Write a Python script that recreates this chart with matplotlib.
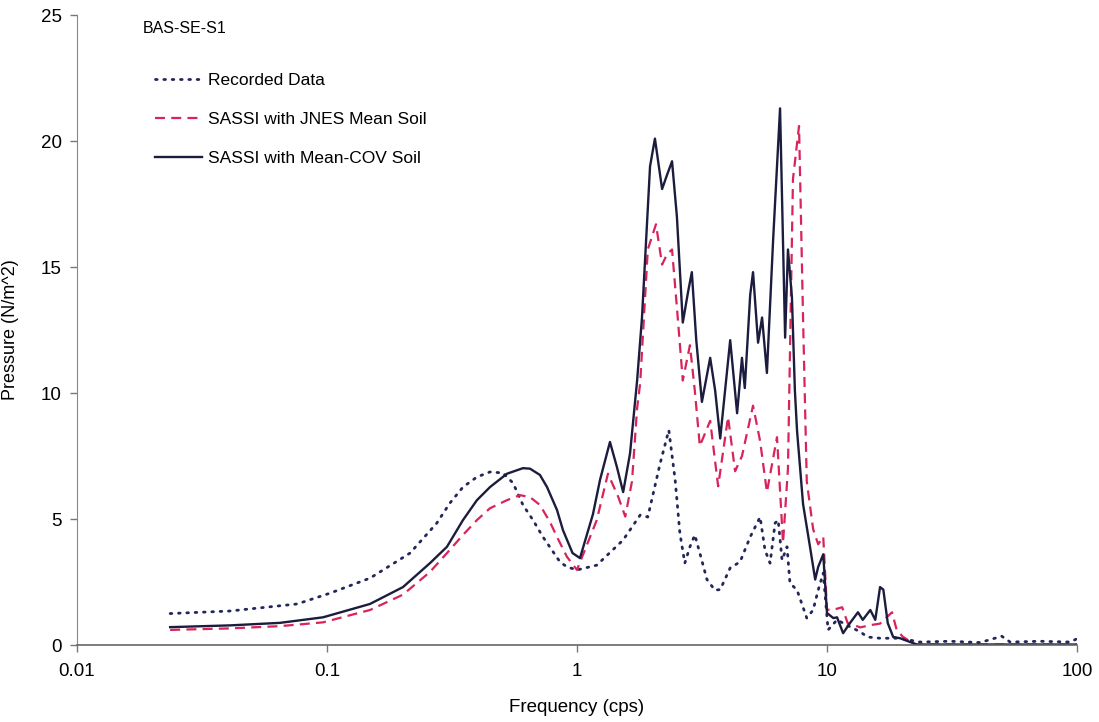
import matplotlib
matplotlib.use("Agg")
import matplotlib.pyplot as plt

plt.rcParams['font.family'] = ['Liberation Sans', 'DejaVu Sans']

# Recorded Data
rec_f = [0.0236, 0.0409, 0.076, 0.103, 0.149, 0.215, 0.275, 0.31, 0.350, 0.398,
         0.449, 0.506, 0.555, 0.608, 0.667, 0.731, 0.855, 0.912, 1.0, 1.2, 1.53,
         1.79, 1.92, 2.15, 2.33, 2.47, 2.58, 2.70, 2.83, 2.96, 3.10, 3.31, 3.56,
         3.74, 4.10, 4.49, 4.93, 5.40, 5.65, 5.92, 6.20, 6.38, 6.61, 6.92, 7.11,
         7.59, 8.02, 8.30, 8.80, 9.22, 9.66, 10.1, 10.97, 12.0, 13.6, 14.5, 16.3,
         19.6, 23.5, 31.0, 41.0, 50.0, 54.0, 71.0, 94.0, 100.0]
rec_p = [1.25, 1.35, 1.63, 2.06, 2.66, 3.65, 4.84, 5.63, 6.27, 6.67,
         6.87, 6.83, 6.43, 5.56, 4.96, 4.29, 3.3, 3.1, 2.98, 3.17, 4.17,
         5.16, 5.08, 7.2, 8.53, 6.55, 4.44, 3.25, 3.9, 4.37, 3.65, 2.6, 2.18,
         2.2, 3.06, 3.3, 4.29, 5.08, 3.77, 3.25, 4.84, 4.96, 3.37, 3.9, 2.46,
         2.18, 1.5, 1.07, 1.39, 2.18, 2.86, 0.6, 1.0, 0.79, 0.52, 0.32, 0.27,
         0.27, 0.12, 0.15, 0.1, 0.35, 0.12, 0.15, 0.12, 0.25]

# SASSI with JNES Mean Soil
jnes_f = [0.0236, 0.0409, 0.0649, 0.0964, 0.1486, 0.2014, 0.2582, 0.302, 0.350,
          0.398, 0.449, 0.525, 0.591, 0.649, 0.711, 0.78, 0.832, 0.912, 1.0, 1.2,
          1.33, 1.46, 1.56, 1.66, 1.74, 1.79, 1.92, 2.07, 2.19, 2.29, 2.40, 2.51,
          2.65, 2.83, 2.96, 3.10, 3.41, 3.67, 4.02, 4.29, 4.57, 5.06, 5.40, 5.75,
          6.31, 6.67, 6.98, 7.31, 7.73, 8.02, 8.30, 8.80, 9.22, 9.66, 10.0, 10.6,
          11.5, 12.1, 13.6, 14.9, 16.3, 18.2, 19.0, 20.1, 22.5, 100.0]
jnes_p = [0.6, 0.66, 0.75, 0.9, 1.39, 2.0, 2.9, 3.65, 4.37,
          4.96, 5.43, 5.75, 5.95, 5.87, 5.56, 4.88, 4.29, 3.5, 2.98, 4.96,
          6.8, 5.9, 5.1, 6.5, 9.4, 10.4, 15.7, 16.7, 15.1, 15.5, 15.7, 13.4,
          10.5, 11.9, 10.1, 7.9, 8.9, 6.3, 9.05, 6.9, 7.5, 9.5, 8.1, 6.07,
          8.25, 4.05, 7.0, 18.5, 20.6, 13.0, 6.5, 4.6, 4.0, 4.3, 1.4, 1.4,
          1.5, 0.87, 0.7, 0.79, 0.85, 1.3, 0.6, 0.33, 0.02, 0.02]

# SASSI with Mean-COV Soil
cov_f = [0.0236, 0.0409, 0.0649, 0.0964, 0.1486, 0.2014, 0.2582, 0.302, 0.350,
         0.398, 0.449, 0.525, 0.608, 0.649, 0.711, 0.759, 0.832, 0.879, 0.96,
         1.028, 1.159, 1.236, 1.355, 1.445, 1.53, 1.63, 1.74, 1.82, 1.96, 2.05,
         2.19, 2.29, 2.40, 2.51, 2.65, 2.78, 2.88, 3.0, 3.16, 3.41, 3.57, 3.74,
         4.10, 4.37, 4.57, 4.69, 4.93, 5.06, 5.30, 5.50, 5.75, 6.09, 6.49, 6.80,
         6.98, 7.24, 7.44, 7.59, 8.02, 8.55, 8.97, 9.22, 9.66, 10.0, 10.6, 10.97,
         11.6, 12.35, 13.3, 13.9, 14.9, 15.6, 16.3, 16.8, 17.5, 18.4, 19.6, 21.5,
         22.9, 100.0]
cov_p = [0.71, 0.78, 0.88, 1.1, 1.63, 2.3, 3.25, 3.9, 4.96,
         5.75, 6.27, 6.8, 7.02, 7.0, 6.75, 6.27, 5.36, 4.56, 3.65,
         3.45, 5.2, 6.55, 8.06, 7.06, 6.07, 7.6, 10.5, 13.0, 19.0, 20.1,
         18.1, 18.65, 19.2, 17.0, 12.8, 14.0, 14.8, 12.1, 9.65, 11.4, 10.1, 8.2,
         12.1, 9.2, 11.4, 10.2, 13.9, 14.8, 12.0, 13.0, 10.8, 16.1, 21.3, 12.2,
         15.7, 13.8, 10.1, 8.5, 5.6, 3.9, 2.6, 3.1, 3.6, 1.27, 1.07, 1.1,
         0.47, 0.87, 1.3, 1.0, 1.39, 1.0, 2.3, 2.2, 0.87, 0.32, 0.27, 0.12,
         0.02, 0.02]

fig = plt.figure(figsize=(10.99, 7.22), dpi=100)
ax = fig.add_axes([0.070, 0.1066, 0.910, 0.8724])

navy = '#1b1c3e'
red = '#d8245a'
ax.plot(rec_f, rec_p, color='#23265a', lw=2.0, linestyle=(0, (0.6, 2.4)),
        dash_capstyle='round', label='Recorded Data')
ax.plot(jnes_f, jnes_p, color=red, lw=1.6, linestyle=(0, (4.5, 2.8)),
        label='SASSI with JNES Mean Soil')
ax.plot(cov_f, cov_p, color=navy, lw=1.7, label='SASSI with Mean-COV Soil')

ax.set_xscale('log')
ax.set_xlim(0.01, 100)
ax.set_ylim(0, 25)
ax.set_xticks([0.01, 0.1, 1, 10, 100])
ax.set_xticklabels(['0.01', '0.1', '1', '10', '100'])
ax.xaxis.set_minor_locator(matplotlib.ticker.NullLocator())
ax.set_yticks([0, 5, 10, 15, 20, 25])
ax.tick_params(axis='both', labelsize=13.5, direction='out', length=5,
               color='#777777', width=1)
ax.tick_params(axis='x', pad=8)
ax.tick_params(axis='y', pad=6)

for s in ['top', 'right']:
    ax.spines[s].set_visible(False)
ax.spines['left'].set_color('#888888')
ax.spines['bottom'].set_color('#666666')
ax.spines['bottom'].set_linewidth(1.2)

ax.set_xlabel('Frequency (cps)', fontsize=13.5)
ax.set_ylabel('Pressure (N/m^2)', fontsize=13)
ax.xaxis.set_label_coords(0.5, -0.085)
ax.yaxis.set_label_coords(-0.058, 0.5)

ax.text(0.066, 0.979, 'BAS-SE-S1', transform=ax.transAxes, fontsize=11.5,
        va='center', ha='left')
leg = ax.legend(loc='upper left', bbox_to_anchor=(0.071, 0.919), frameon=False,
                fontsize=12.5, handlelength=2.7, labelspacing=1.36,
                handletextpad=0.35, borderaxespad=0)

fig.savefig('out.png', dpi=100, facecolor='white')
